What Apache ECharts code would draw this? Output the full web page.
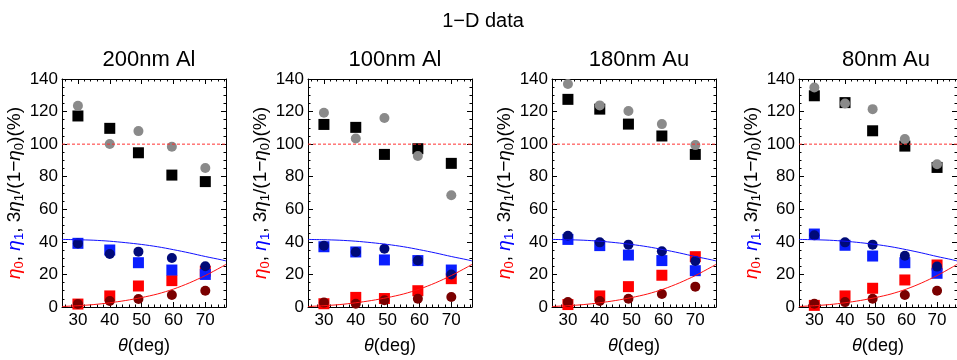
<!DOCTYPE html>
<html>
<head>
<meta charset="utf-8">
<script src="https://cdn.jsdelivr.net/npm/echarts@6/dist/echarts.min.js"></script>
<style>html,body{margin:0;padding:0;background:#fff}#c{width:957px;height:360px}</style>
</head>
<body>
<div id="c"></div>
<script>
// ---- data ----
const mainTitle = '1\u2212D data';
const panelNames = ['200nm Al', '100nm Al', '180nm Au', '80nm Au'];
const theta = [30, 40, 49, 59.5, 70];
const xTickLabels = [30, 40, 50, 60, 70];
const xMinorTicks = [26, 28, 32, 34, 36, 38, 42, 44, 46, 48, 52, 54, 56, 58, 62, 64, 66, 68, 72, 74, 76];

// 3*eta1/(1-eta0): squares (black) and circles (gray)
const ratioSq = [
  [117.3, 109.7, 94.7, 81.0, 77.0],
  [112.1, 110.3, 93.7, 97.2, 88.2],
  [127.5, 121.5, 112.3, 105.0, 93.7],
  [129.7, 125.5, 108.2, 98.8, 85.7]
];
const ratioCi = [
  [123.6, 100.1, 108.0, 98.4, 85.3],
  [119.3, 103.5, 116.0, 92.7, 68.6],
  [136.9, 123.8, 120.3, 112.3, 99.4],
  [134.8, 125.0, 121.5, 103.1, 87.6]
];
// eta1: squares (blue) and circles (navy)
const eta1Sq = [
  [39.1, 35.0, 27.2, 22.7, 20.0],
  [37.0, 33.8, 28.9, 28.5, 22.7],
  [41.5, 37.7, 31.9, 28.5, 22.3],
  [44.8, 37.9, 31.3, 27.2, 20.7]
];
const eta1Ci = [
  [39.0, 32.5, 34.0, 30.1, 25.0],
  [37.6, 33.8, 35.8, 28.5, 20.0],
  [43.8, 39.7, 38.3, 34.2, 28.2],
  [44.0, 39.7, 38.3, 31.5, 24.8]
];
// eta0: squares (red) and circles (dark red)
const eta0Sq = [
  [1.8, 6.8, 12.9, 16.2, 22.0],
  [2.0, 5.9, 5.2, 10.0, 17.4],
  [1.5, 6.8, 12.5, 19.5, 30.9],
  [1.0, 6.8, 11.5, 16.6, 25.8]
];
const eta0Ci = [
  [1.8, 3.7, 4.9, 7.4, 10.0],
  [2.7, 2.0, 4.1, 5.1, 6.1],
  [3.0, 3.7, 5.1, 8.0, 12.5],
  [2.0, 3.0, 5.1, 7.4, 10.0]
];
// theory curves (same in all panels)
const curveTheta = [25, 30, 35, 40, 45, 50, 55, 60, 65, 70, 75, 76.5];
const eta1Theory = [41.5, 41.3, 41.0, 40.4, 39.5, 38.4, 37.0, 35.2, 33.2, 31.0, 29.0, 28.3];
const eta0Theory = [0.3, 0.8, 1.5, 2.6, 4.0, 5.8, 8.0, 11.0, 14.8, 19.3, 24.5, 26.2];
const refX = [25, 76.5];
const refY = [100, 100];

// ---- layout ----
const FONT = 'Liberation Sans, Arial, Helvetica, DejaVu Sans, sans-serif';
const lefts = [62, 308, 552, 799];
const GW = 164, GT = 79, GH = 228;
const XMIN = 25, XMAX = 76.5;

const grids = [], xAxes = [], yAxes = [], series = [];
const titles = [{
  text: mainTitle, left: 478, top: 6, textAlign: 'center',
  textStyle: {fontFamily: FONT, fontSize: 20, fontWeight: 'normal', color: '#000'}
}];

const pair = (xs, ys) => xs.map((x, i) => [x, ys[i]]);

const FS = 19, SFS = 13;
const mk = (color, italic) => ({color: color, fontSize: FS, lineHeight: 22, fontFamily: FONT, fontStyle: italic ? 'italic' : 'normal', verticalAlign: 'middle'});
const mks = (color) => ({color: color, fontSize: SFS, lineHeight: 8, fontFamily: FONT, verticalAlign: 'bottom'});
const rich = {
  r: mk('#ff0000', false), ri: mk('#ff0000', true), rs: mks('#ff0000'),
  b: mk('#0000ff', false), bi: mk('#0000ff', true), bs: mks('#0000ff'),
  k: mk('#000', false), ki: mk('#000', true), ks: mks('#000')
};
const yName = '{ri|\u03b7}{rs|0}{k|, }{bi|\u03b7}{bs|1}{k|, 3}{ki|\u03b7}{ks|1}{k|/(1\u2212}{ki|\u03b7}{ks|0}{k|)(%)}';

panelNames.forEach((nm, p) => {
  grids.push({left: lefts[p], top: GT, width: GW, height: GH, containLabel: false});
  titles.push({
    text: nm, left: lefts[p] + GW / 2, top: 44, textAlign: 'center',
    textStyle: {fontFamily: FONT, fontSize: 22, fontWeight: 'normal', color: '#000'}
  });
  const base = {type: 'value', gridIndex: p, min: XMIN, max: XMAX, splitLine: {show: false}};
  const xi = xAxes.length;
  xAxes.push(Object.assign({}, base, {
    position: 'bottom',
    axisLine: {show: true, lineStyle: {color: '#000', width: 1}},
    axisTick: {show: true, inside: true, length: 5, customValues: xTickLabels, lineStyle: {color: '#000'}},
    axisLabel: {show: true, customValues: xTickLabels, fontFamily: FONT, fontSize: 17, color: '#000', margin: 5},
    name: '{i|\u03b8}{n|(deg)}', nameLocation: 'middle', nameGap: 30,
    nameTextStyle: {rich: {
      i: {fontFamily: FONT, fontSize: 18, fontStyle: 'italic', color: '#000'},
      n: {fontFamily: FONT, fontSize: 18, color: '#000'}
    }}
  }));
  xAxes.push(Object.assign({}, base, {
    position: 'bottom', axisLine: {show: false},
    axisTick: {show: true, inside: true, length: 2.5, customValues: xMinorTicks, lineStyle: {color: '#000'}},
    axisLabel: {show: false}
  }));
  xAxes.push(Object.assign({}, base, {
    position: 'top',
    axisLine: {show: true, lineStyle: {color: '#000', width: 1}},
    axisTick: {show: true, inside: true, length: 5, customValues: xTickLabels, lineStyle: {color: '#000'}},
    axisLabel: {show: false}
  }));
  xAxes.push(Object.assign({}, base, {
    position: 'top', axisLine: {show: false},
    axisTick: {show: true, inside: true, length: 2.5, customValues: xMinorTicks, lineStyle: {color: '#000'}},
    axisLabel: {show: false}
  }));
  const yb = {type: 'value', gridIndex: p, min: 0, max: 140, interval: 20, splitLine: {show: false}};
  const yi = yAxes.length;
  yAxes.push(Object.assign({}, yb, {
    position: 'left',
    axisLine: {show: true, lineStyle: {color: '#000', width: 1}},
    axisTick: {show: true, inside: true, length: 5, lineStyle: {color: '#000'}},
    minorTick: {show: true, splitNumber: 4, length: 2.5, lineStyle: {color: '#000'}},
    axisLabel: {show: true, fontFamily: FONT, fontSize: 17, color: '#000', margin: 4},
    name: yName, nameLocation: 'middle', nameRotate: 90, nameGap: 30,
    nameTextStyle: {rich: rich}
  }));
  yAxes.push(Object.assign({}, yb, {
    position: 'right',
    axisLine: {show: true, lineStyle: {color: '#000', width: 1}},
    axisTick: {show: true, inside: true, length: 5, lineStyle: {color: '#000'}},
    minorTick: {show: true, splitNumber: 4, length: 2.5, lineStyle: {color: '#000'}},
    axisLabel: {show: false}
  }));

  const common = {xAxisIndex: xi, yAxisIndex: yi, silent: true, animation: false};
  series.push(Object.assign({}, common, {
    type: 'line', data: pair(refX, refY), symbol: 'none', clip: true,
    lineStyle: {color: '#ff3030', width: 1, type: [3, 2]}
  }));
  series.push(Object.assign({}, common, {
    type: 'line', data: pair(curveTheta, eta1Theory), symbol: 'none', smooth: 0.3, clip: true,
    lineStyle: {color: '#1010ff', width: 1}
  }));
  series.push(Object.assign({}, common, {
    type: 'line', data: pair(curveTheta, eta0Theory), symbol: 'none', smooth: 0.3, clip: true,
    lineStyle: {color: '#ff1010', width: 1}
  }));
  const sc = (vals, sym, size, color) => Object.assign({}, common, {
    type: 'scatter', data: pair(theta, vals), symbol: sym, symbolSize: size, clip: true,
    itemStyle: {color: color, opacity: 1}
  });
  series.push(sc(eta0Sq[p], 'rect', 11, '#ff0000'));
  series.push(sc(eta0Ci[p], 'circle', 10, '#7a0000'));
  series.push(sc(eta1Sq[p], 'rect', 11, '#0a1eff'));
  series.push(sc(eta1Ci[p], 'circle', 10, '#000a78'));
  series.push(sc(ratioSq[p], 'rect', 11, '#000000'));
  series.push(sc(ratioCi[p], 'circle', 10, '#8a8a8a'));
});

const chart = echarts.init(document.getElementById('c'), null, {renderer: 'canvas'});
chart.setOption({
  animation: false,
  backgroundColor: '#fff',
  title: titles,
  grid: grids,
  xAxis: xAxes,
  yAxis: yAxes,
  series: series
});
</script>
</body>
</html>
